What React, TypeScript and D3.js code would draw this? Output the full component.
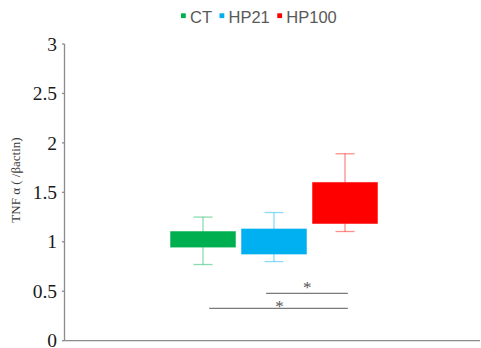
import React, { useEffect, useRef } from "react";
import * as d3 from "d3";

const series = ["CT", "HP21", "HP100"];
const colors = ["#00B050", "#00B0F0", "#FF0000"];
const boxLow = [0.946, 0.876, 1.185];
const boxHigh = [1.104, 1.13, 1.6];
const whiskerLow = [0.77, 0.8, 1.104];
const whiskerHigh = [1.25, 1.296, 1.89];
const yTicks = [0, 0.5, 1, 1.5, 2, 2.5, 3];
const yTitle = "TNF α ( /βactin)";
// significance brackets (positions in category-index units, levels in data units)
const sigFrom = [0.889, 0.087];
const sigTo = [2.04, 2.04];
const sigLevel = [0.478, 0.326];
const starPos = [1.467, 1.077];
const starLevel = [0.563, 0.368];

const W = 481;
const H = 348;

export default function App() {
  const ref = useRef<SVGSVGElement>(null);
  useEffect(() => {
    const svg = d3.select(ref.current);
    svg.selectAll("*").remove();
    const x0 = 64.5, x1 = 480, yBottom = 340.7, yTop = 44;
    const y = d3.scaleLinear().domain([0, 3]).range([yBottom, yTop]);
    const xb = d3.scaleBand<string>().domain(series).range([167.5, 380.5]).paddingInner(0.085).paddingOuter(0.0425);
    const bw = xb.bandwidth();
    const xi = d3.scaleLinear().domain([0, 2]).range([xb(series[0])! + bw / 2, xb(series[2])! + bw / 2]);

    // y axis
    const ga = svg.append("g");
    ga.append("line").attr("x1", x0).attr("x2", x0).attr("y1", yTop).attr("y2", yBottom).attr("stroke", "#8c8c8c").attr("stroke-width", 1.3);
    ga.append("line").attr("x1", x0).attr("x2", x1).attr("y1", yBottom).attr("y2", yBottom).attr("stroke", "#8c8c8c").attr("stroke-width", 1.3);
    yTicks.forEach((t) => {
      ga.append("line").attr("x1", x0 - 2.5).attr("x2", x0).attr("y1", y(t)).attr("y2", y(t)).attr("stroke", "#8c8c8c").attr("stroke-width", 1.3);
      ga.append("text").attr("x", 57).attr("y", y(t)).attr("dy", "0.34em").attr("text-anchor", "end")
        .attr("font-family", "'Liberation Serif', 'Times New Roman', serif").attr("font-size", 19.5).attr("fill", "#1a1a1a")
        .text(d3.format("")(t));
    });
    svg.append("text").attr("transform", `translate(20,180) rotate(-90)`).attr("text-anchor", "middle")
      .attr("font-family", "'Liberation Serif', 'Times New Roman', serif").attr("font-size", 13).attr("fill", "#3a3a3a")
      .text(yTitle);

    // boxes
    series.forEach((s, i) => {
      const cx = xb(s)! + bw / 2;
      const g = svg.append("g");
      const c = colors[i];
      g.append("line").attr("x1", cx).attr("x2", cx).attr("y1", y(whiskerHigh[i])).attr("y2", y(boxHigh[i])).attr("stroke", c).attr("stroke-opacity", 0.45).attr("stroke-width", 1.3);
      g.append("line").attr("x1", cx).attr("x2", cx).attr("y1", y(whiskerLow[i])).attr("y2", y(boxLow[i])).attr("stroke", c).attr("stroke-opacity", 0.45).attr("stroke-width", 1.3);
      [whiskerHigh[i], whiskerLow[i]].forEach((v) => {
        g.append("line").attr("x1", cx - 9.5).attr("x2", cx + 9.5).attr("y1", y(v)).attr("y2", y(v)).attr("stroke", c).attr("stroke-opacity", 0.45).attr("stroke-width", 1.3);
      });
      g.append("rect").attr("x", xb(s)!).attr("width", bw).attr("y", y(boxHigh[i])).attr("height", y(boxLow[i]) - y(boxHigh[i]))
        .attr("fill", c).attr("stroke", c).attr("stroke-opacity", 0.5).attr("stroke-width", 1);
    });

    // significance
    sigFrom.forEach((f, i) => {
      svg.append("line").attr("x1", xi(f)).attr("x2", xi(sigTo[i])).attr("y1", y(sigLevel[i])).attr("y2", y(sigLevel[i])).attr("stroke", "#7a7a7a").attr("stroke-width", 1.2);
      svg.append("text").attr("x", xi(starPos[i])).attr("y", y(starLevel[i]) + 8).attr("text-anchor", "middle")
        .attr("font-family", "'Liberation Serif', 'Times New Roman', serif").attr("font-size", 17).attr("fill", "#555")
        .text("*");
    });

    // legend
    const lg = svg.append("g");
    let lx = 181;
    series.forEach((s, i) => {
      lg.append("rect").attr("x", lx).attr("y", 13.3).attr("width", 4.8).attr("height", 4.8).attr("fill", colors[i]);
      const t = lg.append("text").attr("x", lx + 9).attr("y", 23.3)
        .attr("font-family", "'Liberation Sans', Arial, sans-serif").attr("font-size", 16.5).attr("fill", "#595959").text(s);
      const w = (t.node() as SVGTextElement).getComputedTextLength();
      lx = lx + 9 + w + 7.5;
    });
  }, []);
  return <svg ref={ref} width={W} height={H} style={{ position: "absolute", left: 0, top: 0, background: "#fff" }} />;
}
